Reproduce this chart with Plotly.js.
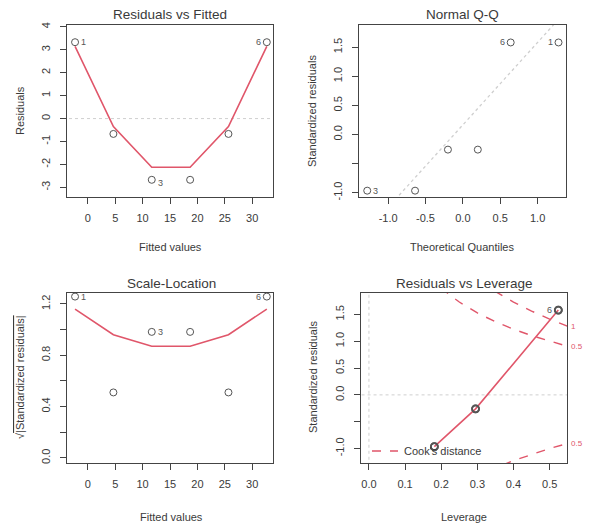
<!DOCTYPE html>
<html>
<head>
<meta charset="utf-8">
<script src="https://cdn.plot.ly/plotly-3.0.1.min.js"></script>
<style>html,body{margin:0;padding:0;background:#fff;}#chart{width:589px;height:524px;}</style>
</head>
<body>
<div id="chart"></div>
<script>
// ---- data ----
const obsLabels = ["1", "2", "3", "4", "5", "6"];
const fitted = [-2.33, 4.67, 11.67, 18.67, 25.67, 32.67];
const residuals = [3.33, -0.67, -2.67, -2.67, -0.67, 3.33];
const residSmooth = [3.15, -0.35, -2.12, -2.12, -0.35, 3.15];

const theoQuantiles = [-1.28, -0.64, -0.20, 0.20, 0.64, 1.28];
const sortedStdResid = [-0.965, -0.965, -0.26, -0.26, 1.581, 1.581];
const qqLineX = [-1.5, 1.5];
const qqLineY = [-1.96, 2.29];

const sqrtAbsStdResid = [1.257, 0.510, 0.982, 0.982, 0.510, 1.257];
const scaleSmooth = [1.16, 0.96, 0.87, 0.87, 0.96, 1.16];

const leverage = [0.524, 0.295, 0.181, 0.181, 0.295, 0.524];
const stdResid = [1.581, -0.26, -0.965, -0.965, -0.26, 1.581];
const levSmoothX = [0.181, 0.295, 0.524];
const levSmoothY = [-0.965, -0.26, 1.581];
const cookH = [0.2, 0.22, 0.25, 0.3, 0.35, 0.4, 0.45, 0.5, 0.55];
const cookHalfUpper = [2.0, 1.883, 1.732, 1.528, 1.363, 1.225, 1.106, 1.0, 0.905];
const cookHalfLower = [-2.0, -1.883, -1.732, -1.528, -1.363, -1.225, -1.106, -1.0, -0.905];
const cookOneUpper = [2.828, 2.663, 2.449, 2.160, 1.927, 1.732, 1.563, 1.414, 1.279];
const cookOneLower = [-2.828, -2.663, -2.449, -2.160, -1.927, -1.732, -1.563, -1.414, -1.279];

// ---- styles ----
const FONT = "Liberation Sans, Arial, sans-serif";
const INK = "#3a3a3a";
const RED = "#e0566a";
const GREY = "#cfcfcf";
const W = 589, H = 524;
const px = v => v / W;
const py = v => 1 - v / H;

const pt = (x, y, xa, ya, w) => ({
  x: x, y: y, xaxis: xa, yaxis: ya, type: "scatter", mode: "markers",
  marker: {symbol: "circle-open", size: 7, color: "#555", line: {width: w || 1, color: "#555"}},
  hoverinfo: "skip", showlegend: false
});
const ln = (x, y, xa, ya, color, dash, width) => ({
  x: x, y: y, xaxis: xa, yaxis: ya, type: "scatter", mode: "lines",
  line: {color: color, dash: dash || "solid", width: width || 1.4},
  hoverinfo: "skip", showlegend: false
});

const traces = [
  // Residuals vs Fitted
  ln([-10, 40], [0, 0], "x", "y", GREY, "dot", 1),
  ln(fitted, residSmooth, "x", "y", RED, "solid", 1.6),
  pt(fitted, residuals, "x", "y"),
  // Normal Q-Q
  ln(qqLineX, qqLineY, "x2", "y2", GREY, "dot", 1.3),
  pt(theoQuantiles, sortedStdResid, "x2", "y2"),
  // Scale-Location
  ln(fitted, scaleSmooth, "x3", "y3", RED, "solid", 1.6),
  pt(fitted, sqrtAbsStdResid, "x3", "y3"),
  // Residuals vs Leverage
  ln([-1, 1], [0, 0], "x4", "y4", GREY, "dot", 1),
  ln([0, 0], [-3, 3], "x4", "y4", GREY, "dot", 1),
  ln(cookH, cookHalfUpper, "x4", "y4", RED, "dash", 1.4),
  ln(cookH, cookHalfLower, "x4", "y4", RED, "dash", 1.4),
  ln(cookH, cookOneUpper, "x4", "y4", RED, "dash", 1.4),
  ln(cookH, cookOneLower, "x4", "y4", RED, "dash", 1.4),
  ln(levSmoothX, levSmoothY, "x4", "y4", RED, "solid", 1.6),
  pt(leverage, stdResid, "x4", "y4", 1.8)
];

const axisBase = {
  showline: true, mirror: true, linecolor: "#444", linewidth: 1,
  ticks: "outside", ticklen: 6, tickcolor: "#444", tickwidth: 1,
  showgrid: false, zeroline: false, fixedrange: true,
  tickfont: {family: FONT, size: 11, color: INK}
};
const xa = (dom, range, vals, text) => Object.assign({}, axisBase, {
  domain: dom, range: range, tickmode: "array", tickvals: vals, ticktext: text, ticklabelstandoff: 5
});
const ya = (dom, range, vals, text, anchor) => Object.assign({}, axisBase, {
  domain: dom, range: range, tickmode: "array", tickvals: vals, ticktext: text, tickangle: -90, anchor: anchor,
  ticklabelstandoff: 6
});

const fittedTicks = [0, 5, 10, 15, 20, 25, 30];
const fittedText = ["0", "5", "10", "15", "20", "25", "30"];

const domL = [px(67), px(273)];
const domR = [px(359), px(566)];
const domT = [py(197), py(25)];
const domB = [py(463), py(293)];

const layout = {
  width: W, height: H,
  margin: {l: 0, r: 0, t: 0, b: 0},
  paper_bgcolor: "#fff", plot_bgcolor: "#fff",
  showlegend: false,
  font: {family: FONT, color: INK},
  xaxis: Object.assign(xa(domL, [-3.8, 33.8], fittedTicks, fittedText), {anchor: "y"}),
  yaxis: ya(domT, [-3.42, 4.08], [-3, -2, -1, 0, 1, 2, 3, 4], ["-3", "-2", "-1", "0", "1", "2", "3", "4"], "x"),
  xaxis2: Object.assign(xa(domR, [-1.39, 1.38], [-1, -0.5, 0, 0.5, 1], ["-1.0", "-0.5", "0.0", "0.5", "1.0"]), {anchor: "y2"}),
  yaxis2: ya(domT, [-1.074, 1.881], [-1, -0.5, 0, 0.5, 1, 1.5], ["-1.0", "", "0.0", "0.5", "1.0", "1.5"], "x2"),
  xaxis3: Object.assign(xa(domL, [-3.8, 33.8], fittedTicks, fittedText), {anchor: "y3"}),
  yaxis3: ya(domB, [-0.04, 1.285], [0, 0.2, 0.4, 0.6, 0.8, 1.0, 1.2], ["0.0", "", "0.4", "", "0.8", "", "1.2"], "x3"),
  xaxis4: Object.assign(xa([px(361), px(567)], [-0.022, 0.548], [0, 0.1, 0.2, 0.3, 0.4, 0.5], ["0.0", "0.1", "0.2", "0.3", "0.4", "0.5"]), {anchor: "y4"}),
  yaxis4: ya(domB, [-1.27, 1.90], [-1, -0.5, 0, 0.5, 1, 1.5], ["-1.0", "", "0.0", "0.5", "1.0", "1.5"], "x4"),
  shapes: [
    {type: "line", xref: "paper", yref: "paper", x0: px(372), x1: px(398), y0: py(451), y1: py(451),
     line: {color: RED, width: 1.4, dash: "dash"}}
  ],
  annotations: []
};

const ann = layout.annotations;
const paperText = (text, x, y, size, angle, color) => ann.push({
  text: text, xref: "paper", yref: "paper", x: px(x), y: py(y), showarrow: false,
  xanchor: "center", yanchor: "middle", textangle: angle || 0,
  font: {family: FONT, size: size, color: color || INK}
});
// titles
paperText("Residuals vs Fitted", 170, 15, 13.5);
paperText("Normal Q-Q", 462, 15, 13.5);
paperText("Scale-Location", 171, 283, 13.5);
paperText("Residuals vs Leverage", 464, 283, 13.5);
// axis titles
paperText("Fitted values", 170, 247, 11);
paperText("Theoretical Quantiles", 462, 247, 11);
paperText("Fitted values", 171, 517, 11);
paperText("Leverage", 464, 517, 11);
paperText("Residuals", 20, 111, 11, -90);
paperText("Standardized residuals", 312, 111, 11, -90);
paperText("√<span style=\"text-decoration:overline\">|Standardized residuals|</span>", 20, 377, 11, -90);
paperText("Standardized residuals", 313, 377, 11, -90);
// legend text
ann.push({text: "Cook's distance", xref: "paper", yref: "paper", x: px(402), y: py(451),
  xanchor: "left", yanchor: "middle", showarrow: false, font: {family: FONT, size: 11, color: INK}});

// point id labels
const idLabel = (x, y, xr, yr, text, side, yshift) => ann.push({
  text: text, xref: xr, yref: yr, x: x, y: y, showarrow: false,
  xanchor: side === "right" ? "left" : "right", yanchor: "middle",
  xshift: side === "right" ? 4 : -4, yshift: yshift || 0,
  font: {family: FONT, size: 9, color: "#555"}
});
idLabel(fitted[0], residuals[0], "x", "y", obsLabels[0], "right");
idLabel(fitted[5], residuals[5], "x", "y", obsLabels[5], "left");
idLabel(fitted[2], residuals[2], "x", "y", obsLabels[2], "right", -3);
idLabel(theoQuantiles[0], sortedStdResid[0], "x2", "y2", obsLabels[2], "right");
idLabel(theoQuantiles[4], sortedStdResid[4], "x2", "y2", obsLabels[5], "left");
idLabel(theoQuantiles[5], sortedStdResid[5], "x2", "y2", obsLabels[0], "left");
idLabel(fitted[0], sqrtAbsStdResid[0], "x3", "y3", obsLabels[0], "right");
idLabel(fitted[5], sqrtAbsStdResid[5], "x3", "y3", obsLabels[5], "left");
idLabel(fitted[2], sqrtAbsStdResid[2], "x3", "y3", obsLabels[2], "right");
idLabel(leverage[0], stdResid[0], "x4", "y4", obsLabels[5], "left");

// Cook's distance contour labels
const cookLbl = (y, text) => ann.push({
  text: text, xref: "paper", yref: "y4", x: px(569), y: y, showarrow: false,
  xanchor: "left", yanchor: "middle", font: {family: FONT, size: 8, color: RED}
});
cookLbl(cookOneUpper[8], "1");
cookLbl(cookHalfUpper[8], "0.5");
cookLbl(cookHalfLower[8], "0.5");

Plotly.newPlot("chart", traces, layout, {displayModeBar: false, staticPlot: true});
</script>
</body>
</html>
